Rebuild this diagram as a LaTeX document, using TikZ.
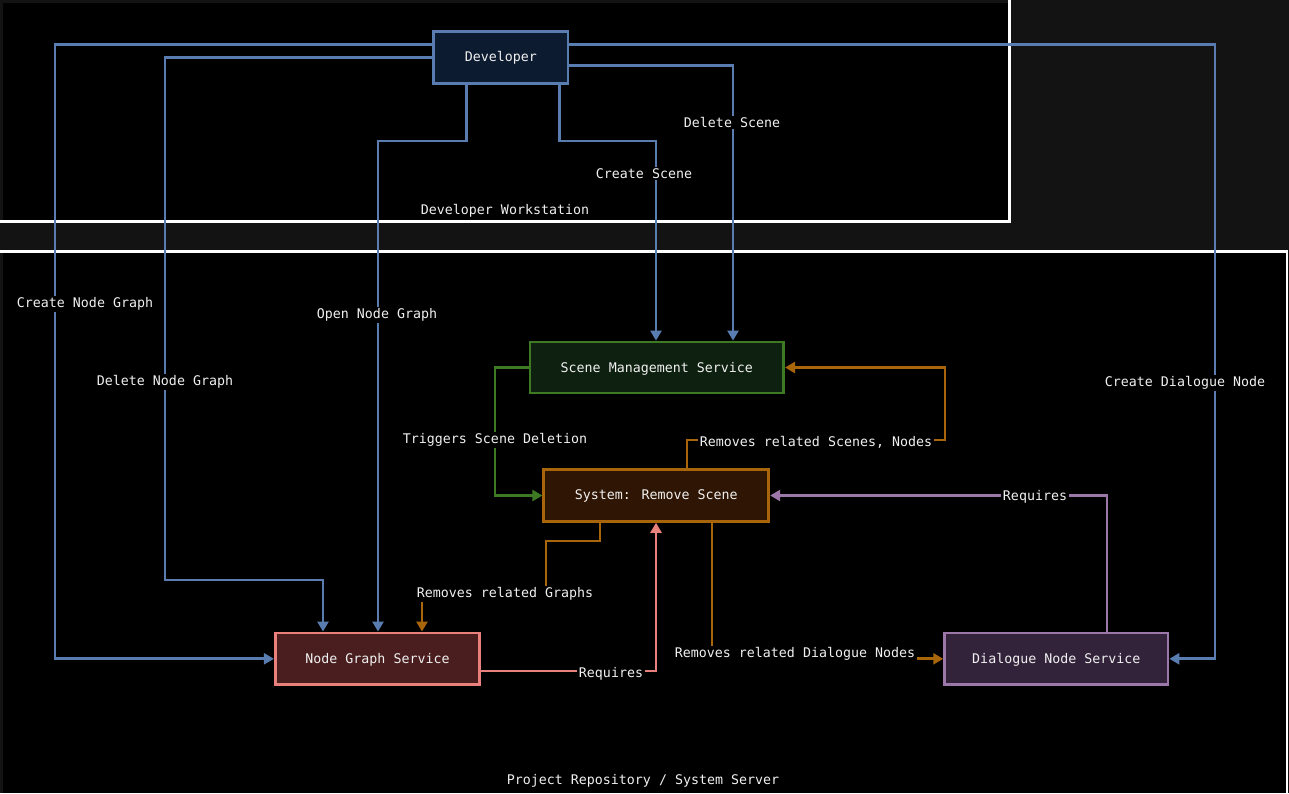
\documentclass[tikz,border=0pt]{standalone}
\usepackage{fontspec}
\newfontfamily\diafont{DejaVu Sans Mono}
\usetikzlibrary{arrows.meta}

\definecolor{canvas}{HTML}{131313}
\definecolor{txt}{HTML}{F0F0F0}
\definecolor{bluec}{HTML}{5A7DB1}
\definecolor{devfill}{HTML}{0C1B2F}
\definecolor{greenc}{HTML}{3E7A23}
\definecolor{greenfill}{HTML}{0E200F}
\definecolor{orangec}{HTML}{A8650A}
\definecolor{orangefill}{HTML}{2F1604}
\definecolor{salmonc}{HTML}{E8807C}
\definecolor{salmonfill}{HTML}{4A1E1E}
\definecolor{purplec}{HTML}{9C78AA}
\definecolor{purplefill}{HTML}{32233A}

\tikzset{
  diatext/.style={font=\diafont\fontsize{13.3}{16}\selectfont, text=txt},
  svc/.style={diatext, rectangle, line width=2.8pt, minimum height=51.7pt, inner sep=2pt, text depth=1pt},
  flow/.style={line width=2.9pt, line cap=butt, line join=miter,
    -{Triangle[length=10pt,width=11pt]}},
  flowlabel/.style={diatext, fill=black, inner sep=1.5pt, yshift=-1.8pt},
  clusterlabel/.style={diatext, inner sep=1pt, yshift=-1.8pt}
}

\begin{document}
\begin{tikzpicture}[x=1pt,y=-1pt]
\useasboundingbox (0,0) rectangle (1289,793);
\fill[canvas] (0,0) rectangle (1289,793);

% Developer Workstation cluster
\fill[black] (3,3) rectangle (1009.5,221.3);
\draw[white, line width=2.8pt] (1009.5,0) -- (1009.5,221.3) -- (0,221.3);
\node[clusterlabel] (wslabel) at (505,209) {Developer Workstation};

% Project Repository / System Server cluster
\fill[black] (3,251.2) rectangle (1287,793);
\draw[white, line width=2.6pt] (0,251.2) -- (1287,251.2) -- (1287,793);
\node[clusterlabel] (srvlabel) at (643,779) {Project Repository / System Server};

% Services
\node[svc, draw=bluec, fill=devfill, minimum width=134.3pt, minimum height=52pt] (dev) at (500.8,57.3) {Developer};
\node[svc, draw=greenc, fill=greenfill, minimum width=253.7pt, minimum height=51pt] (sms) at (656.8,367.5) {Scene Management Service};
\node[svc, draw=orangec, fill=orangefill, minimum width=225pt] (rs) at (656.3,495.5) {System: Remove Scene};
\node[svc, draw=salmonc, fill=salmonfill, minimum width=204.4pt] (ngs) at (377.5,658.8) {Node Graph Service};
\node[svc, draw=purplec, fill=purplefill, minimum width=223.3pt] (dns) at (1056.3,658.8) {Dialogue Node Service};

% Developer actions
\draw[flow, bluec] (dev.west |- 0,44.3) -- (55,44.3) -- (55,658.8) -- (ngs.west);
\draw[flow, bluec] (dev.west) -- (165,57.3) -- (165,580) -- (323,580) -- (ngs.north -| 323,0);
\draw[flow, bluec] (dev.south -| 466.7,0) -- (466.7,141) -- (378,141) -- (ngs.north -| 378,0);
\draw[flow, bluec] (dev.south -| 559.3,0) -- (559.3,141) -- (656,141) -- (sms.north -| 656,0);
\draw[flow, bluec] (dev.east |- 0,65.7) -- (733,65.7) -- (sms.north -| 733,0);
\draw[flow, bluec] (dev.east |- 0,44.3) -- (1215,44.3) -- (1215,658.8) -- (dns.east);

% Service interactions
\draw[flow, greenc] (sms.west) -- (495,367.5) -- (495,495.5) -- (rs.west);
\draw[flow, orangec] (rs.north -| 687,0) -- (687,440) -- (945,440) -- (945,367.5) -- (sms.east);
\draw[flow, purplec] (dns.north -| 1107,0) -- (1107,495.5) -- (rs.east);
\draw[flow, orangec] (rs.south -| 600,0) -- (600,541) -- (546,541) -- (546,592) -- (422,592) -- (ngs.north -| 422,0);
\draw[flow, salmonc] (ngs.east |- 0,671) -- (656,671) -- (rs.south -| 656,0);
\draw[flow, orangec] (rs.south -| 712,0) -- (712,658.8) -- (dns.west);

% Connector labels
\node[flowlabel] (l1) at (85,302) {Create Node Graph};
\node[flowlabel] (l2) at (165,380) {Delete Node Graph};
\node[flowlabel] (l3) at (377,313) {Open Node Graph};
\node[flowlabel] (l4) at (644,172) {Create Scene};
\node[flowlabel] (l5) at (732,121) {Delete Scene};
\node[flowlabel] (l6) at (1185,381) {Create Dialogue Node};
\node[flowlabel] (l7) at (495,438) {Triggers Scene Deletion};
\node[flowlabel] (l8) at (816,441) {Removes related Scenes, Nodes};
\node[flowlabel] (l9) at (1035,495) {Requires};
\node[flowlabel] (l10) at (505,592) {Removes related Graphs};
\node[flowlabel] (l11) at (611,672) {Requires};
\node[flowlabel] (l12) at (795,652) {Removes related Dialogue Nodes};
\end{tikzpicture}
\end{document}
